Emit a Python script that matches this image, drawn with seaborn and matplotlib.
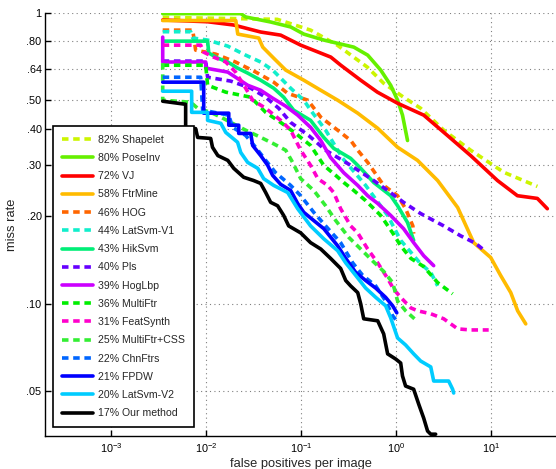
import matplotlib
matplotlib.use("Agg")
import matplotlib.pyplot as plt
import seaborn as sns
import pandas as pd

sns.set_style("ticks")
plt.rcParams['font.family'] = ['Liberation Sans', 'DejaVu Sans']
plt.rcParams['mathtext.default'] = 'regular'

# ---------------- data (fppi, miss rate) ----------------
methods = ["Shapelet", "PoseInv", "VJ", "FtrMine", "HOG", "LatSvm-V1", "HikSvm", "Pls",
           "HogLbp", "MultiFtr", "FeatSynth", "MultiFtr+CSS", "ChnFtrs", "FPDW",
           "LatSvm-V2", "Our method"]
log_avg_miss = [82, 80, 72, 58, 46, 44, 43, 40, 39, 36, 31, 25, 22, 21, 20, 17]

shapelet_fppi = [0.00347, 0.0087, 0.0558, 0.125, 0.239, 0.495, 0.735, 1.19, 1.80, 3.15, 6.05, 13.5, 30.5]
shapelet_mr = [0.966, 0.961, 0.951, 0.873, 0.775, 0.651, 0.573, 0.513, 0.470, 0.395, 0.337, 0.283, 0.253]

poseinv_fppi = [0.00347, 0.023, 0.0259, 0.0475, 0.0773, 0.106, 0.172, 0.356, 0.499, 0.684, 0.871, 1.03, 1.16, 1.31]
poseinv_mr = [0.995, 0.995, 0.969, 0.931, 0.895, 0.846, 0.807, 0.763, 0.716, 0.636, 0.564, 0.501, 0.445, 0.364]

vj_fppi = [0.00347, 0.0103, 0.0194, 0.0373, 0.0606, 0.0984, 0.204, 0.260, 0.421, 0.631, 1.03, 1.94, 3.44, 6.05, 11.6, 18.8, 30.5, 38.8]
vj_mr = [0.946, 0.933, 0.909, 0.860, 0.839, 0.775, 0.705, 0.661, 0.587, 0.534, 0.489, 0.445, 0.379, 0.323, 0.265, 0.235, 0.230, 0.212]

ftrmine_fppi = [0.00347, 0.0204, 0.0214, 0.0356, 0.0392, 0.0511, 0.0684, 0.106, 0.160, 0.241, 0.392, 0.636, 1.03, 1.67, 2.72, 4.42, 6.51, 9.84, 12.5, 16.0, 18.9, 23.0]
ftrmine_mr = [0.942, 0.942, 0.846, 0.820, 0.763, 0.699, 0.636, 0.587, 0.542, 0.501, 0.452, 0.401, 0.345, 0.311, 0.265, 0.214, 0.162, 0.144, 0.125, 0.109, 0.0944, 0.0851]

hog_fppi = [0.00347, 0.00718, 0.00771, 0.0125, 0.0203, 0.0331, 0.0511, 0.0717, 0.117, 0.160, 0.241, 0.331, 0.392, 0.499, 0.735, 1.03, 1.25, 1.49, 1.52]
hog_mr = [0.873, 0.873, 0.745, 0.722, 0.678, 0.626, 0.578, 0.529, 0.501, 0.438, 0.395, 0.364, 0.337, 0.306, 0.255, 0.235, 0.212, 0.185, 0.174]

latsvmv1_fppi = [0.00347, 0.00684, 0.00718, 0.0103, 0.0168, 0.0259, 0.0373, 0.0499, 0.0771, 0.106, 0.125, 0.180, 0.272, 0.475, 0.809, 1.11, 1.80, 2.30, 2.72]
latsvmv1_mr = [0.862, 0.862, 0.820, 0.807, 0.769, 0.716, 0.678, 0.636, 0.551, 0.501, 0.463, 0.395, 0.316, 0.255, 0.201, 0.165, 0.137, 0.128, 0.115]

hiksvm_fppi = [0.00347, 0.0103, 0.0106, 0.0132, 0.0168, 0.0213, 0.0272, 0.0373, 0.0511, 0.0651, 0.0829, 0.125, 0.172, 0.219, 0.330, 0.421, 0.577, 0.871, 1.03, 1.31, 1.52]
hiksvm_mr = [0.800, 0.800, 0.728, 0.699, 0.678, 0.646, 0.621, 0.587, 0.551, 0.513, 0.463, 0.427, 0.373, 0.342, 0.316, 0.292, 0.261, 0.235, 0.217, 0.190, 0.165]

pls_fppi = [0.00347, 0.00984, 0.0103, 0.018, 0.0293, 0.0421, 0.0577, 0.0771, 0.119, 0.180, 0.330, 0.577, 0.809, 1.19, 1.80, 3.15, 4.75, 6.84, 8.5]
pls_mr = [0.683, 0.683, 0.601, 0.583, 0.551, 0.513, 0.470, 0.420, 0.379, 0.337, 0.299, 0.265, 0.245, 0.223, 0.204, 0.185, 0.171, 0.161, 0.152]

hoglbp_fppi = [0.00347, 0.00347, 0.00984, 0.00984, 0.0168, 0.0203, 0.0272, 0.0373, 0.0499, 0.0684, 0.0914, 0.125, 0.160, 0.203, 0.279, 0.392, 0.499, 0.636, 0.871, 1.19, 1.52, 1.94, 2.47]
hoglbp_mr = [0.826, 0.678, 0.678, 0.646, 0.626, 0.601, 0.564, 0.542, 0.509, 0.478, 0.445, 0.404, 0.364, 0.318, 0.282, 0.255, 0.235, 0.221, 0.201, 0.181, 0.162, 0.146, 0.135]

multiftr_fppi = [0.00347, 0.00984, 0.0103, 0.016, 0.0293, 0.0421, 0.0606, 0.0871, 0.125, 0.172, 0.230, 0.279, 0.356, 0.475, 0.684, 0.914, 1.11, 1.42, 1.94, 2.72, 3.91]
multiftr_mr = [0.661, 0.661, 0.564, 0.534, 0.513, 0.455, 0.420, 0.385, 0.350, 0.299, 0.276, 0.261, 0.245, 0.226, 0.201, 0.175, 0.158, 0.143, 0.134, 0.118, 0.108]

featsynth_fppi = [0.00347, 0.00871, 0.00937, 0.0119, 0.016, 0.0203, 0.0259, 0.0307, 0.0421, 0.0606, 0.0771, 0.0984, 0.125, 0.149, 0.189, 0.219, 0.259, 0.330, 0.392, 0.499, 0.636, 0.809, 0.937, 1.11, 1.42, 1.67, 2.30, 3.15, 4.42, 6.05, 9.37]
featsynth_mr = [0.775, 0.775, 0.733, 0.705, 0.678, 0.626, 0.551, 0.501, 0.470, 0.427, 0.395, 0.337, 0.299, 0.269, 0.255, 0.241, 0.212, 0.185, 0.175, 0.154, 0.138, 0.122, 0.112, 0.105, 0.0966, 0.0944, 0.0922, 0.0886, 0.0818, 0.0811, 0.0811]

multiftrcss_fppi = [0.00347, 0.00347, 0.00684, 0.00809, 0.0111, 0.0142, 0.0189, 0.0259, 0.0356, 0.0499, 0.0684, 0.0809, 0.0984, 0.135, 0.180, 0.230, 0.315, 0.421, 0.564, 0.735, 0.914, 1.03, 1.25, 1.60]
multiftrcss_mr = [0.672, 0.501, 0.493, 0.470, 0.455, 0.438, 0.417, 0.395, 0.376, 0.356, 0.337, 0.306, 0.269, 0.245, 0.217, 0.193, 0.169, 0.154, 0.140, 0.129, 0.118, 0.102, 0.0944, 0.0878]

chnftrs_fppi = [0.00347, 0.00871, 0.00914, 0.0172, 0.0189, 0.0259, 0.033, 0.0421, 0.0536, 0.0771, 0.0984, 0.135, 0.180, 0.259, 0.347, 0.442, 0.606, 0.771, 0.914, 1.03]
chnftrs_mr = [0.601, 0.601, 0.463, 0.445, 0.404, 0.379, 0.345, 0.311, 0.282, 0.255, 0.235, 0.206, 0.185, 0.162, 0.138, 0.125, 0.115, 0.102, 0.0907, 0.0865]

fpdw_fppi = [0.00347, 0.00937, 0.00937, 0.0172, 0.0172, 0.0219, 0.0219, 0.0293, 0.0307, 0.0373, 0.0442, 0.0499, 0.0606, 0.0771, 0.0914, 0.106, 0.135, 0.172, 0.241, 0.293, 0.373, 0.475, 0.606, 0.771, 0.914, 1.01]
fpdw_mr = [0.578, 0.578, 0.452, 0.452, 0.411, 0.411, 0.385, 0.385, 0.350, 0.323, 0.299, 0.276, 0.257, 0.245, 0.221, 0.206, 0.193, 0.181, 0.158, 0.143, 0.128, 0.120, 0.113, 0.105, 0.0982, 0.0929]

latsvmv2_fppi = [0.00347, 0.0070, 0.0070, 0.0103, 0.0103, 0.0142, 0.016, 0.0213, 0.023, 0.0272, 0.0347, 0.0401, 0.0511, 0.0718, 0.0914, 0.125, 0.172, 0.241, 0.293, 0.373, 0.475, 0.606, 0.771, 0.871, 1.03, 1.25, 1.52, 1.80, 2.30, 2.47, 3.55, 3.91, 4.01]
latsvmv2_mr = [0.538, 0.538, 0.455, 0.455, 0.427, 0.417, 0.388, 0.359, 0.331, 0.306, 0.292, 0.269, 0.255, 0.241, 0.212, 0.185, 0.167, 0.152, 0.138, 0.125, 0.113, 0.105, 0.0982, 0.0893, 0.0761, 0.0720, 0.0671, 0.0634, 0.0605, 0.0541, 0.0541, 0.0507, 0.0492]

ours_fppi = [0.00347, 0.00605, 0.00605, 0.00771, 0.00809, 0.0111, 0.0116, 0.0132, 0.0168, 0.0194, 0.0247, 0.0315, 0.0373, 0.0421, 0.0475, 0.0562, 0.0651, 0.0735, 0.0984, 0.125, 0.160, 0.203, 0.259, 0.293, 0.330, 0.392, 0.421, 0.453, 0.636, 0.735, 0.809, 0.984, 1.11, 1.16, 1.25, 1.52, 1.72, 1.94, 2.13, 2.30, 2.59]
ours_mr = [0.497, 0.485, 0.40, 0.40, 0.373, 0.370, 0.345, 0.323, 0.311, 0.292, 0.272, 0.265, 0.259, 0.241, 0.223, 0.217, 0.201, 0.185, 0.175, 0.162, 0.154, 0.143, 0.132, 0.120, 0.115, 0.109, 0.0998, 0.0886, 0.0872, 0.0786, 0.0671, 0.0644, 0.0624, 0.0563, 0.0520, 0.0507, 0.0450, 0.0403, 0.0364, 0.0355, 0.0355]

series = [
    (shapelet_fppi, shapelet_mr), (poseinv_fppi, poseinv_mr), (vj_fppi, vj_mr),
    (ftrmine_fppi, ftrmine_mr), (hog_fppi, hog_mr), (latsvmv1_fppi, latsvmv1_mr),
    (hiksvm_fppi, hiksvm_mr), (pls_fppi, pls_mr), (hoglbp_fppi, hoglbp_mr),
    (multiftr_fppi, multiftr_mr), (featsynth_fppi, featsynth_mr),
    (multiftrcss_fppi, multiftrcss_mr), (chnftrs_fppi, chnftrs_mr),
    (fpdw_fppi, fpdw_mr), (latsvmv2_fppi, latsvmv2_mr), (ours_fppi, ours_mr),
]

colors = ["#ccf500", "#66f000", "#ff0000", "#ffbb00", "#ff6600", "#11eecc", "#00ee77",
          "#6600ff", "#cc00ff", "#00ee00", "#ff00cc", "#33ee33", "#0066ff", "#0000ff",
          "#00ccff", "#000000"]
dashed = [True, False, False, False, True, True, False, True, False, True, True, True,
          True, False, False, False]

x_ticks = [1e-3, 1e-2, 1e-1, 1e0, 1e1]
x_ticklabels = [r"$10^{-3}$", r"$10^{-2}$", r"$10^{-1}$", r"$10^{0}$", r"$10^{1}$"]
y_ticks = [0.05, 0.10, 0.20, 0.30, 0.40, 0.50, 0.64, 0.80, 1.0]
y_ticklabels = [".05", ".10", ".20", ".30", ".40", ".50", ".64", ".80", "1"]

# ---------------- figure ----------------
fig = plt.figure(figsize=(5.56, 4.69), dpi=100)
ax = fig.add_axes([0.0809, 0.0704, 0.9223, 0.9019])

DASH = (0, (1.8, 1.3))
for name, pct, (fx, my), c, d in zip(methods, log_avg_miss, series, colors, dashed):
    df = pd.DataFrame({"fppi": fx, "mr": my})
    sns.lineplot(data=df, x="fppi", y="mr", ax=ax, sort=False, estimator=None,
                 color=c, linewidth=2.6, linestyle=DASH if d else "-",
                 label=f"{pct}% {name}")

ax.set_xscale("log")
ax.set_yscale("log")
ax.set_xlim(2e-4, 50)
ax.set_ylim(0.035, 1.0)
ax.set_xticks(x_ticks)
ax.set_xticklabels(x_ticklabels)
ax.set_yticks(y_ticks)
ax.set_yticklabels(y_ticklabels)
ax.minorticks_off()
ax.tick_params(direction="in", length=4, width=1, labelsize=7.8, colors="black")
ax.tick_params(axis="y", pad=2.5)
ax.tick_params(axis="x", pad=4)

ax.grid(True, which="major", linestyle=(0, (1, 3)), color="0.5", linewidth=0.8)
ax.set_axisbelow(True)
for s in ["top", "right"]:
    ax.spines[s].set_visible(False)
for s in ["left", "bottom"]:
    ax.spines[s].set_color("black")
    ax.spines[s].set_linewidth(1.0)

ax.set_xlabel("false positives per image", fontsize=9.3, labelpad=2)
ax.set_ylabel("miss rate", fontsize=9.3, labelpad=6)

leg = ax.legend(loc="lower left", bbox_to_anchor=(0.0162, 0.0206), borderaxespad=0,
                fontsize=7.6, handlelength=2.95, handletextpad=0.4, labelspacing=0.78,
                borderpad=0.85, fancybox=False, framealpha=1, edgecolor="black")
leg.get_frame().set_linewidth(1.2)

fig.savefig("out.png", dpi=100)
